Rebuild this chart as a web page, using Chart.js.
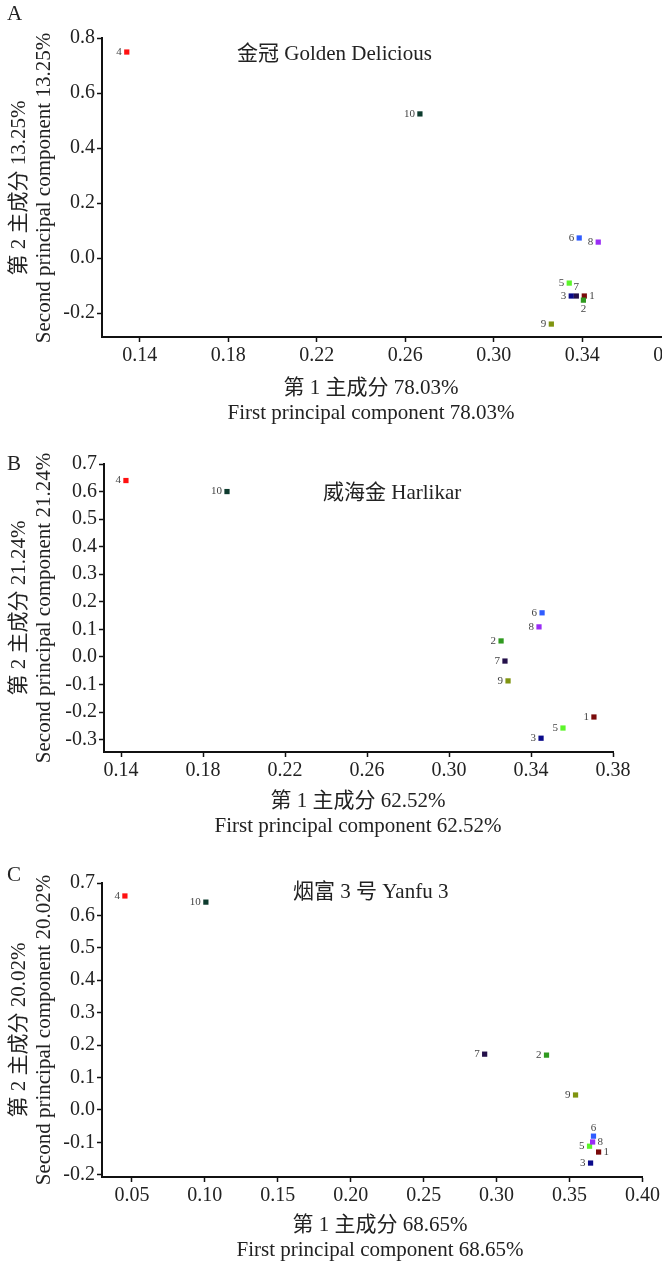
<!DOCTYPE html>
<html>
<head>
<meta charset="utf-8">
<script src="https://cdn.jsdelivr.net/npm/chart.js@4/dist/chart.umd.min.js"></script>
<style>
  html, body { margin: 0; padding: 0; background: #fff; overflow: hidden; width: 662px; height: 1266px; }
  .panel { position: absolute; left: 0; }
</style>
</head>
<body>
<div class="panel" style="top:0px"><canvas id="chartA" width="720" height="430"></canvas></div>
<div class="panel" style="top:430px"><canvas id="chartB" width="662" height="420"></canvas></div>
<div class="panel" style="top:850px"><canvas id="chartC" width="662" height="416"></canvas></div>
<script>
// sample numbers 1-10
const sampleIds = ['1', '2', '3', '4', '5', '6', '7', '8', '9', '10']

// A 金冠 Golden Delicious
const goldenPC1 = [0.3409, 0.3405, 0.3350, 0.1341, 0.3341, 0.3386, 0.3373, 0.3472, 0.3260, 0.2666]
const goldenPC2 = [-0.138, -0.153, -0.138, 0.749, -0.091, 0.073, -0.138, 0.058, -0.240, 0.524]
const goldenXTicks = [0.14, 0.18, 0.22, 0.26, 0.30, 0.34, 0.38]
const goldenYTicks = [-0.2, 0.0, 0.2, 0.4, 0.6, 0.8]

// B 威海金 Harlikar
const harlikarPC1 = [0.3707, 0.3254, 0.3449, 0.1424, 0.3556, 0.3454, 0.3273, 0.3439, 0.3288, 0.1917]
const harlikarPC2 = [-0.218, 0.058, -0.295, 0.640, -0.258, 0.160, -0.015, 0.109, -0.087, 0.600]
const harlikarXTicks = [0.14, 0.18, 0.22, 0.26, 0.30, 0.34, 0.38]
const harlikarYTicks = [-0.3, -0.2, -0.1, 0.0, 0.1, 0.2, 0.3, 0.4, 0.5, 0.6, 0.7]

// C 烟富 3 号 Yanfu 3
const yanfuPC1 = [0.3699, 0.3342, 0.3644, 0.0452, 0.3637, 0.3664, 0.2918, 0.3658, 0.3541, 0.1007]
const yanfuPC2 = [-0.130, 0.169, -0.164, 0.660, -0.112, -0.081, 0.172, -0.099, 0.046, 0.641]
const yanfuXTicks = [0.05, 0.10, 0.15, 0.20, 0.25, 0.30, 0.35, 0.40]
const yanfuYTicks = [-0.2, -0.1, 0.0, 0.1, 0.2, 0.3, 0.4, 0.5, 0.6, 0.7]

// one colour per sample
const sampleColors = ['#7a0a0a', '#2f9a1f', '#0a0a8a', '#ff1010', '#5cf52a', '#2f5cff',
                      '#24104a', '#9a2cf5', '#7f9410', '#0d3b2e']

const serif = "'Liberation Serif', 'Noto Sans CJK SC', serif"
Chart.defaults.font.family = serif
Chart.defaults.color = '#222'

// titles, panel letter and axis names
const panelText = {
    id: 'panelText',
    afterDraw(chart, args, o) {
        const ctx = chart.ctx
        ctx.save()
        ctx.fillStyle = '#222'
        ctx.textBaseline = 'middle'
        ctx.font = '21px ' + serif
        ctx.textAlign = 'left'
        ctx.fillText(o.letter, o.letterX, o.letterY)
        ctx.fillText(o.title, o.titleX, o.titleY)
        ctx.textAlign = 'center'
        o.xTitle.forEach((t, i) => ctx.fillText(t, o.xTitleX, o.xTitleY + i * 25))
        ctx.translate(0, o.yTitleY)
        ctx.rotate(-Math.PI / 2)
        o.yTitle.forEach((t, i) => ctx.fillText(t, 0, 19 + i * 25))
        ctx.restore()
    }
}

// small number beside each point
const pointNames = {
    id: 'pointNames',
    afterDatasetsDraw(chart, args, o) {
        const ctx = chart.ctx
        const meta = chart.getDatasetMeta(0)
        ctx.save()
        ctx.font = '11px ' + serif
        ctx.fillStyle = '#444'
        meta.data.forEach((pt, i) => {
            const side = o.sides[i] || 'left'
            let x = pt.x, y = pt.y
            if (side == 'left') { ctx.textAlign = 'right'; ctx.textBaseline = 'middle'; x -= 5 }
            else if (side == 'right') { ctx.textAlign = 'left'; ctx.textBaseline = 'middle'; x += 5 }
            else if (side == 'below') { ctx.textAlign = 'center'; ctx.textBaseline = 'top'; y += 3 }
            else { ctx.textAlign = 'center'; ctx.textBaseline = 'bottom'; y -= 3 }
            ctx.fillText(sampleIds[i], x, y)
        })
        ctx.restore()
    }
}

function axisStyle() {
    return {
        grid: { display: true, drawOnChartArea: false, drawTicks: true, tickLength: 5, tickWidth: 1.5, tickColor: '#111' },
        border: { display: true, color: '#111', width: 2 }
    }
}

function makePanel(id, xs, ys, xTicks, yTicks, xMin, xMax, yMin, yMax, box, text, sides) {
    var ctx = document.getElementById(id)
    new Chart(ctx, {
        type: 'scatter',
        data: {
            datasets: [{
                data: xs.map((x, i) => ({ x: x, y: ys[i] })),
                backgroundColor: sampleColors,
                borderWidth: 0,
                pointStyle: 'rect',
                pointRadius: 3.7,
                pointHoverRadius: 3.7,
                clip: false
            }]
        },
        options: {
            responsive: false,
            animation: false,
            layout: { padding: { left: 0, top: box.top, right: box.right, bottom: 0 } },
            scales: {
                x: Object.assign(axisStyle(), {
                    type: 'linear', min: xMin, max: xMax,
                    afterBuildTicks: s => { s.ticks = xTicks.map(v => ({ value: v })) },
                    afterFit: s => { s.height = box.xAxisH },
                    ticks: { autoSkip: false, maxRotation: 0, padding: 2, font: { size: 20 }, callback: v => v.toFixed(2) }
                }),
                y: Object.assign(axisStyle(), {
                    type: 'linear', min: yMin, max: yMax,
                    afterBuildTicks: s => { s.ticks = yTicks.map(v => ({ value: v })) },
                    afterFit: s => { s.width = box.yAxisW },
                    ticks: { autoSkip: false, padding: 2, font: { size: 20 }, callback: v => v.toFixed(1) }
                })
            },
            plugins: {
                legend: { display: false },
                tooltip: { enabled: false },
                panelText: text,
                pointNames: { sides: sides }
            }
        },
        plugins: [panelText, pointNames]
    })
}

makePanel('chartA', goldenPC1, goldenPC2, goldenXTicks, goldenYTicks, 0.1229, 0.3932, -0.287, 0.8,
    { top: 38, right: 20, xAxisH: 93, yAxisW: 102 },
    { letter: 'A', letterX: 7, letterY: 14, title: '金冠 Golden Delicious', titleX: 237, titleY: 54,
      xTitle: ['第 1 主成分 78.03%', 'First principal component 78.03%'], xTitleX: 371, xTitleY: 388,
      yTitle: ['第 2 主成分 13.25%', 'Second principal component 13.25%'], yTitleY: 188 },
    ['right', 'below', 'left', 'left', 'left', 'left', 'above', 'left', 'left', 'left'])

makePanel('chartB', harlikarPC1, harlikarPC2, harlikarXTicks, harlikarYTicks, 0.1317, 0.38, -0.345, 0.7,
    { top: 34, right: 49, xAxisH: 98, yAxisW: 104 },
    { letter: 'B', letterX: 7, letterY: 34, title: '威海金 Harlikar', titleX: 323, titleY: 63,
      xTitle: ['第 1 主成分 62.52%', 'First principal component 62.52%'], xTitleX: 358, xTitleY: 371,
      yTitle: ['第 2 主成分 21.24%', 'Second principal component 21.24%'], yTitleY: 178 },
    ['left', 'left', 'left', 'left', 'left', 'left', 'left', 'left', 'left', 'left'])

makePanel('chartC', yanfuPC1, yanfuPC2, yanfuXTicks, yanfuYTicks, 0.0295, 0.40, -0.207, 0.7,
    { top: 33, right: 19, xAxisH: 89, yAxisW: 102 },
    { letter: 'C', letterX: 7, letterY: 25, title: '烟富 3 号 Yanfu 3', titleX: 293, titleY: 42,
      xTitle: ['第 1 主成分 68.65%', 'First principal component 68.65%'], xTitleX: 380, xTitleY: 375,
      yTitle: ['第 2 主成分 20.02%', 'Second principal component 20.02%'], yTitleY: 180 },
    ['right', 'left', 'left', 'left', 'left', 'above', 'left', 'right', 'left', 'left'])
</script>
</body>
</html>
